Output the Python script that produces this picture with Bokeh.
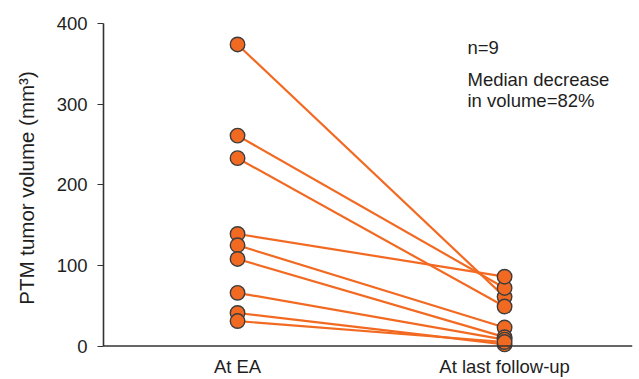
from bokeh.plotting import figure
from bokeh.models import ColumnDataSource, Range1d, FixedTicker, Span, Label
from bokeh.embed import file_html
from bokeh.resources import INLINE

categories = ["At EA", "At last follow-up"]
at_ea = [374, 261, 233, 139, 125, 108, 66, 41, 31]
at_last = [61, 72, 49, 86, 23, 11, 8, 2, 5]
y_ticks = [0, 100, 200, 300, 400]
note_n = "n=9"
note_median = ["Median decrease", "in volume=82%"]

FONT = "Liberation Sans"
ORANGE = "#F26A22"
EDGE = "#3d3d3d"
TXT = "#1e1e1e"

src = ColumnDataSource(dict(
    x0=[1] * len(at_ea), y0=at_ea, x1=[2] * len(at_last), y1=at_last))

p = figure(width=639, height=379, output_backend="svg", toolbar_location=None,
           x_range=Range1d(0.498, 2.479), y_range=Range1d(-8, 400),
           min_border_left=103, min_border_right=7, min_border_top=23,
           min_border_bottom=20)
p.outline_line_color = None
p.grid.visible = False
p.background_fill_color = "white"
p.border_fill_color = "white"

p.segment(x0="x0", y0="y0", x1="x1", y1="y1", source=src,
          line_color=ORANGE, line_width=2.2)
p.scatter(x="x0", y="y0", source=src, size=14.5, fill_color=ORANGE,
          line_color=EDGE, line_width=1.4)
p.scatter(x="x1", y="y1", source=src, size=14.5, fill_color=ORANGE,
          line_color=EDGE, line_width=1.4)

p.add_layout(Span(location=0, dimension="width", line_color="#333333",
                  line_width=1.6))

# y axis
ya = p.yaxis[0]
ya.ticker = FixedTicker(ticks=y_ticks)
ya.bounds = (0, 400)
ya.axis_line_color = "#333333"
ya.axis_line_width = 1.6
ya.major_tick_line_color = "#333333"
ya.major_tick_line_width = 1.2
ya.major_tick_out = 6
ya.major_tick_in = 0
ya.minor_tick_line_color = None
ya.major_label_text_font = FONT
ya.major_label_text_font_size = "18.5px"
ya.major_label_text_color = TXT
ya.major_label_standoff = 10
ya.axis_label = "PTM tumor volume (mm³)"
ya.axis_label_text_font = FONT
ya.axis_label_text_font_size = "20.5px"
ya.axis_label_text_font_style = "normal"
ya.axis_label_text_color = TXT
ya.axis_label_standoff = 16

# x axis
xa = p.xaxis[0]
xa.ticker = FixedTicker(ticks=[1, 2])
xa.major_label_overrides = {1: categories[0], 2: categories[1]}
xa.axis_line_color = None
xa.major_tick_line_color = None
xa.minor_tick_line_color = None
xa.major_label_text_font = FONT
xa.major_label_text_font_size = "18.5px"
xa.major_label_text_color = TXT
xa.major_label_standoff = -3

for yv, txt in [(370, note_n), (330, note_median[0]), (304.6, note_median[1])]:
    p.add_layout(Label(x=1.861, y=yv, text=txt, text_font=FONT,
                       text_font_size="18.5px", text_color=TXT,
                       text_baseline="alphabetic"))

open("out.html", "w").write(file_html(p, INLINE))
